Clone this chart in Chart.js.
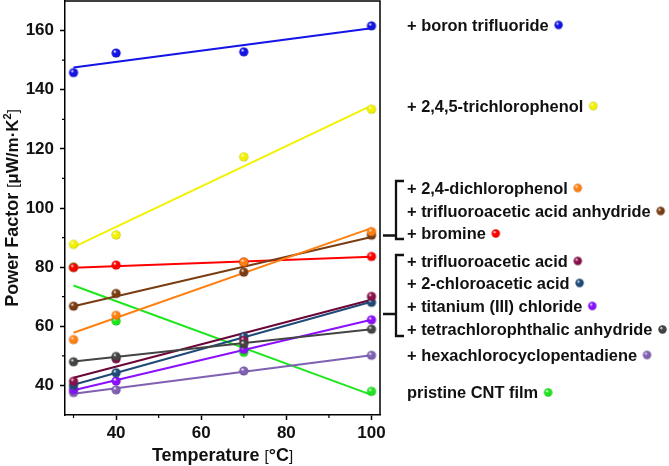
<!DOCTYPE html>
<html>
<head>
<meta charset="utf-8">
<script src="https://cdn.jsdelivr.net/npm/chart.js@4.4.1/dist/chart.umd.min.js"></script>
<style>
  html, body { margin: 0; padding: 0; background: #fff; }
  #wrap { width: 669px; height: 466px; }
</style>
</head>
<body>
<div id="wrap"><canvas id="chart" width="669" height="466"></canvas></div>
<script>
// temperatures (°C) where the films were measured
const temps = [30, 40, 70, 100];
const fitX = [30, 100];

const xTicks = [40, 60, 80, 100];
const xMinorTicks = [30, 50, 70, 90];
const yTicks = [40, 60, 80, 100, 120, 140, 160];
const yMinorTicks = [50, 70, 90, 110, 130, 150];

// series names in draw priority (first = on top)
const names = [
  "+ boron trifluoride",
  "+ 2,4,5-trichlorophenol",
  "+ 2,4-dichlorophenol",
  "+ trifluoroacetic acid anhydride",
  "+ bromine",
  "+ tetrachlorophthalic anhydride",
  "+ trifluoroacetic acid",
  "+ 2-chloroacetic acid",
  "+ titanium (III) chloride",
  "+ hexachlorocyclopentadiene",
  "pristine CNT film"
];
const colors = [
  "#1414e6", "#f2f200", "#ff8010", "#7a3d12", "#ff0000",
  "#444444", "#8a0f4a", "#1f4a78", "#8a10ff", "#7f60b3", "#1ee61e"
];
const lineColors = [
  "#1414e6", "#f2f200", "#ff8010", "#7a3d12", "#ff0000",
  "#444444", "#6a0636", "#1f4a78", "#8a10ff", "#7f60b3", "#1ee61e"
];

// power factor values, µW/m·K²
const boronTrifluoride = [145.8, 152.4, 152.8, 161.6];
const trichlorophenol = [87.7, 90.9, 117.3, 133.4];
const dichlorophenol = [55.5, 63.7, 81.7, 92.0];
const tfaAnhydride = [66.8, 71.1, 78.3, 90.8];
const bromine = [79.9, 80.7, 81.7, 83.6];
const tetrachlorophthalic = [48.0, 49.8, 54.0, 59.0];
const trifluoroacetic = [41.4, 49.0, 55.2, 70.1];
const chloroacetic = [40.0, 44.3, 56.5, 68.1];
const titaniumChloride = [38.6, 41.5, 52.2, 62.2];
const hexachloro = [37.6, 38.5, 44.9, 50.2];
const pristine = [80.0, 61.8, 51.2, 38.0];

// linear fit lines, values at 30 and 100 °C
const boronTrifluorideFit = [147.5, 160.8];
const trichlorophenolFit = [86.8, 134.6];
const dichlorophenolFit = [57.8, 93.2];
const tfaAnhydrideFit = [66.8, 90.2];
const bromineFit = [79.8, 83.5];
const tetrachlorophthalicFit = [48.1, 59.0];
const trifluoroaceticFit = [42.6, 69.0];
const chloroaceticFit = [40.2, 68.3];
const titaniumChlorideFit = [38.4, 62.2];
const hexachloroFit = [37.2, 50.2];
const pristineFit = [73.8, 36.8];

const allValues = [boronTrifluoride, trichlorophenol, dichlorophenol, tfaAnhydride, bromine,
  tetrachlorophthalic, trifluoroacetic, chloroacetic, titaniumChloride, hexachloro, pristine];
const allFits = [boronTrifluorideFit, trichlorophenolFit, dichlorophenolFit, tfaAnhydrideFit, bromineFit,
  tetrachlorophthalicFit, trifluoroaceticFit, chloroaceticFit, titaniumChlorideFit, hexachloroFit, pristineFit];

const FONT = "'Liberation Sans', Arial, sans-serif";

function shade(hex, f) {
  const n = parseInt(hex.slice(1), 16);
  const r = Math.round(((n >> 16) & 255) * f);
  const g = Math.round(((n >> 8) & 255) * f);
  const b = Math.round((n & 255) * f);
  return `rgb(${r},${g},${b})`;
}

// shaded sphere sprite used as point style
function makeBall(color, r) {
  const c = document.createElement('canvas');
  const s = Math.ceil(2 * r + 2);
  c.width = c.height = s;
  const g = c.getContext('2d');
  const cx = s / 2;
  const grad = g.createRadialGradient(cx - r * 0.35, cx - r * 0.4, r * 0.05, cx, cx, r);
  grad.addColorStop(0, '#ffffff');
  grad.addColorStop(0.35, color);
  grad.addColorStop(0.8, color);
  grad.addColorStop(1, shade(color, 0.78));
  g.fillStyle = grad;
  g.beginPath();
  g.arc(cx, cx, r, 0, Math.PI * 2);
  g.fill();
  return c;
}

const datasets = [];
allValues.forEach((vals, i) => {
  datasets.push({
    label: names[i],
    type: 'scatter',
    data: vals.map((v, k) => ({ x: temps[k], y: v })),
    pointStyle: makeBall(colors[i], 4.6),
    pointRadius: 4.6,
    pointBorderWidth: 0,
    showLine: false,
    order: 0
  });
});
allFits.forEach((vals, i) => {
  datasets.push({
    label: names[i] + ' fit',
    type: 'line',
    data: vals.map((v, k) => ({ x: fitX[k], y: v })),
    borderColor: lineColors[i],
    borderWidth: 2,
    pointRadius: 0,
    fill: false,
    order: 1
  });
});

// minor ticks, frame, axis titles, legend and brackets
const decorPlugin = {
  id: 'decor',
  afterDraw(chart) {
    const ctx = chart.ctx;
    const a = chart.chartArea;
    const xs = chart.scales.x, ys = chart.scales.y;
    ctx.save();
    ctx.strokeStyle = '#000';
    ctx.lineWidth = 1.5;
    ctx.beginPath();
    ctx.moveTo(a.left, a.top);
    ctx.lineTo(a.right, a.top);
    ctx.lineTo(a.right, a.bottom);
    ctx.stroke();

    ctx.lineWidth = 1.2;
    ctx.beginPath();
    xMinorTicks.forEach(v => {
      const px = xs.getPixelForValue(v);
      ctx.moveTo(px, a.bottom);
      ctx.lineTo(px, a.bottom + 3);
    });
    yMinorTicks.forEach(v => {
      const py = ys.getPixelForValue(v);
      ctx.moveTo(a.left - 3, py);
      ctx.lineTo(a.left, py);
    });
    ctx.stroke();

    // axis titles with mixed styles
    const drawPieces = (pieces, cx, cy) => {
      let total = 0;
      pieces.forEach(p => { ctx.font = p.font; p.w = ctx.measureText(p.t).width; total += p.w; });
      let x = cx - total / 2;
      ctx.textBaseline = 'alphabetic';
      ctx.textAlign = 'left';
      pieces.forEach(p => {
        ctx.font = p.font;
        ctx.fillText(p.t, x, cy + (p.dy || 0));
        x += p.w;
      });
    };
    ctx.fillStyle = '#111';
    drawPieces([
      { t: 'Temperature ', font: `bold 18px ${FONT}` },
      { t: '[', font: `15px ${FONT}` },
      { t: '°C', font: `bold 18px ${FONT}` },
      { t: ']', font: `15px ${FONT}` }
    ], (a.left + a.right) / 2, 461);

    ctx.save();
    ctx.translate(18, (a.top + a.bottom) / 2);
    ctx.rotate(-Math.PI / 2);
    drawPieces([
      { t: 'Power Factor ', font: `bold 18px ${FONT}` },
      { t: '[', font: `15px ${FONT}` },
      { t: 'μW/m·K', font: `bold 17px ${FONT}` },
      { t: '2', font: `bold 11px ${FONT}`, dy: -7 },
      { t: ']', font: `15px ${FONT}` }
    ], 0, 0);
    ctx.restore();

    // legend text on the right
    const legendRows = [
      { i: 0, y: 25 }, { i: 1, y: 106 },
      { i: 2, y: 188 }, { i: 3, y: 211 }, { i: 4, y: 233.5 },
      { i: 6, y: 261 }, { i: 7, y: 283 }, { i: 8, y: 306 }, { i: 5, y: 329.5 },
      { i: 9, y: 355 }, { i: 10, y: 392.5 }
    ];
    ctx.font = `bold 16.4px ${FONT}`;
    ctx.textBaseline = 'middle';
    ctx.textAlign = 'left';
    legendRows.forEach(row => {
      const tx = 407;
      ctx.fillStyle = '#111';
      ctx.fillText(names[row.i], tx, row.y + 1);
      const w = ctx.measureText(names[row.i]).width;
      const ball = makeBall(colors[row.i], 4.2);
      ctx.drawImage(ball, tx + w + 10 - ball.width / 2, row.y - ball.height / 2);
    });

    // brackets grouping the legend rows
    ctx.strokeStyle = '#111';
    ctx.lineWidth = 2.3;
    const bracket = (y0, y1, yc) => {
      ctx.beginPath();
      ctx.moveTo(404, y0);
      ctx.lineTo(396, y0);
      ctx.lineTo(396, y1);
      ctx.lineTo(404, y1);
      ctx.moveTo(383, yc);
      ctx.lineTo(396, yc);
      ctx.stroke();
    };
    bracket(181, 239, 235.5);
    bracket(255, 336, 314);
    ctx.restore();
  }
};

new Chart(document.getElementById('chart'), {
  type: 'scatter',
  data: { datasets },
  options: {
    responsive: false,
    animation: false,
    devicePixelRatio: 1,
    layout: { autoPadding: false, padding: { top: 1, right: 289, bottom: 0, left: 0 } },
    plugins: { legend: { display: false }, tooltip: { enabled: false } },
    scales: {
      x: {
        type: 'linear',
        min: 28,
        max: 102,
        afterBuildTicks: s => { s.ticks = xTicks.map(v => ({ value: v })); },
        afterFit: s => { s.height = 51; s.paddingLeft = 0; s.paddingRight = 0; },
        grid: { drawOnChartArea: false, drawTicks: true, tickLength: 5, tickColor: '#000', tickWidth: 1.5 },
        border: { display: true, color: '#000', width: 1.5 },
        ticks: { color: '#111', padding: 3, font: { family: FONT, weight: 'bold', size: 17 } }
      },
      y: {
        type: 'linear',
        min: 30,
        max: 170,
        afterBuildTicks: s => { s.ticks = yTicks.map(v => ({ value: v })); },
        afterFit: s => { s.width = 65; s.paddingTop = 0; s.paddingBottom = 0; },
        grid: { drawOnChartArea: false, drawTicks: true, tickLength: 5, tickColor: '#000', tickWidth: 1.5 },
        border: { display: true, color: '#000', width: 1.5 },
        ticks: { color: '#111', padding: 6, font: { family: FONT, weight: 'bold', size: 17 } }
      }
    }
  },
  plugins: [decorPlugin]
});
</script>
</body>
</html>
